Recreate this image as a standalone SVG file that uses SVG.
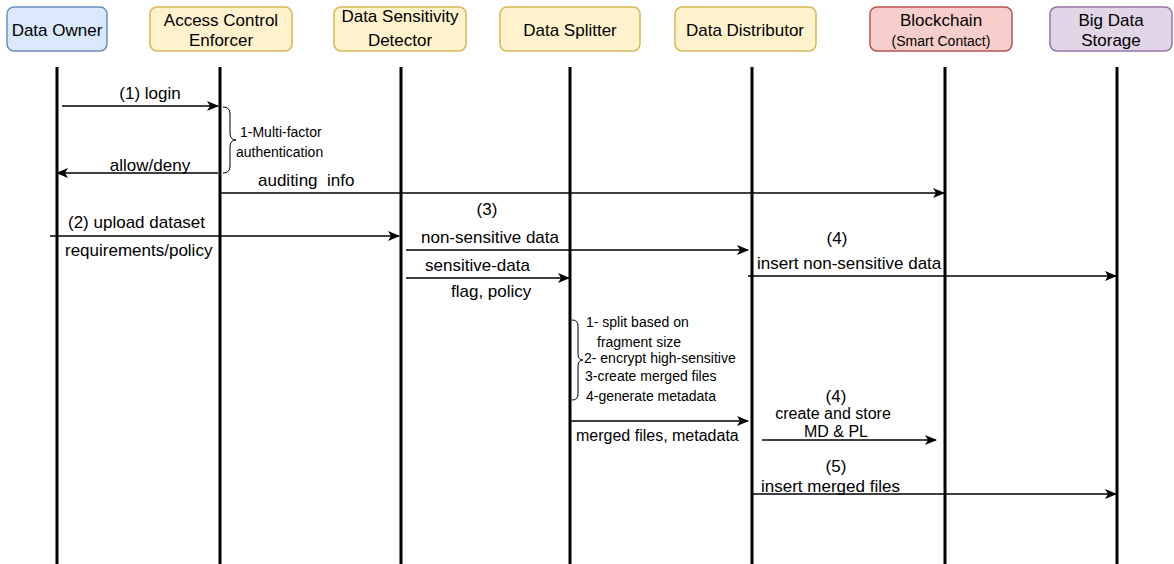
<svg xmlns="http://www.w3.org/2000/svg" width="1174" height="564" viewBox="0 0 1174 564">
<style>
text{font-family:"Liberation Sans",Arial,sans-serif;fill:#000}
.bt{font-size:17px;text-anchor:middle}
.lb{font-size:17px}
.lm{font-size:16px}
.c{text-anchor:middle}
.nt{font-size:14px}
.life{stroke:#000;stroke-width:3}
.msg{stroke:#000;stroke-width:1.5;fill:none}
.br{stroke:#000;stroke-width:1;fill:none}
</style>
<defs>
<marker id="ah" viewBox="0 0 12 10" refX="11" refY="5" markerWidth="12" markerHeight="10" markerUnits="userSpaceOnUse" orient="auto">
<path d="M0,0 L12,5 L0,10 L3,5 Z" fill="#000"/>
</marker>
</defs>
<g id="lifelines">
<line class="life" x1="57" y1="67" x2="57" y2="564"/>
<line class="life" x1="220" y1="67" x2="220" y2="564"/>
<line class="life" x1="401" y1="67" x2="401" y2="564"/>
<line class="life" x1="570" y1="67" x2="570" y2="564"/>
<line class="life" x1="752" y1="67" x2="752" y2="564"/>
<line class="life" x1="945" y1="67" x2="945" y2="564"/>
<line class="life" x1="1117" y1="67" x2="1117" y2="564"/>
</g>
<g id="node-data-owner">
<rect x="7" y="7" width="100" height="44" rx="7" fill="#dae8fc" stroke="#6c8ebf" stroke-width="1.5"/>
<text class="bt" x="57" y="36">Data Owner</text>
</g>
<g id="node-access-control">
<rect x="150" y="7" width="142" height="44" rx="7" fill="#fff2cc" stroke="#d6b656" stroke-width="1.5"/>
<text class="bt" x="221" y="26">Access Control</text>
<text class="bt" x="221" y="46">Enforcer</text>
</g>
<g id="node-sensitivity">
<rect x="334" y="7" width="132" height="44" rx="7" fill="#fff2cc" stroke="#d6b656" stroke-width="1.5"/>
<text class="bt" x="400" y="22">Data Sensitivity</text>
<text class="bt" x="400" y="46">Detector</text>
</g>
<g id="node-splitter">
<rect x="500" y="7" width="140" height="44" rx="7" fill="#fff2cc" stroke="#d6b656" stroke-width="1.5"/>
<text class="bt" x="570" y="36">Data Splitter</text>
</g>
<g id="node-distributor">
<rect x="675" y="7" width="141" height="44" rx="7" fill="#fff2cc" stroke="#d6b656" stroke-width="1.5"/>
<text class="bt" x="745" y="36">Data Distributor</text>
</g>
<g id="node-blockchain">
<rect x="870" y="7" width="142" height="44" rx="7" fill="#f8cecc" stroke="#b85450" stroke-width="1.5"/>
<text class="bt" x="941" y="26">Blockchain</text>
<text x="941" y="46" style="font-size:14px;text-anchor:middle">(Smart Contact)</text>
</g>
<g id="node-storage">
<rect x="1050" y="7" width="122" height="44" rx="7" fill="#e1d5e7" stroke="#9673a6" stroke-width="1.5"/>
<text class="bt" x="1111" y="26">Big Data</text>
<text class="bt" x="1111" y="46">Storage</text>
</g>
<g id="connectors">
<line class="msg" x1="62" y1="106" x2="218" y2="106" marker-end="url(#ah)"/>
<line class="msg" x1="218" y1="173" x2="57" y2="173" marker-end="url(#ah)"/>
<line class="msg" x1="220" y1="193" x2="944" y2="193" marker-end="url(#ah)"/>
<line class="msg" x1="50" y1="236" x2="399" y2="236" marker-end="url(#ah)"/>
<line class="msg" x1="406" y1="250" x2="748" y2="250" marker-end="url(#ah)"/>
<line class="msg" x1="406" y1="278" x2="569" y2="278" marker-end="url(#ah)"/>
<line class="msg" x1="748" y1="276" x2="1116" y2="276" marker-end="url(#ah)"/>
<line class="msg" x1="571" y1="421" x2="748" y2="421" marker-end="url(#ah)"/>
<line class="msg" x1="762" y1="440" x2="936" y2="440" marker-end="url(#ah)"/>
<line class="msg" x1="752" y1="494" x2="1116" y2="494" marker-end="url(#ah)"/>
<path class="br" d="M223,107 Q230,107 230,114 L230,133 Q230,140 236,140 Q230,140 230,147 L230,166 Q230,173 223,173"/>
<path class="br" d="M572,320 Q578,320 578,326 L578,354 Q578,360 583,360 Q578,360 578,366 L578,394 Q578,400 572,400"/>
</g>
<g id="labels">
<text class="lb c" x="150" y="99">(1) login</text>
<text class="lb c" x="150" y="171">allow/deny</text>
<text class="nt" x="240" y="137">1-Multi-factor</text>
<text class="nt" x="236" y="157">authentication</text>
<text class="lb" x="258" y="186">auditing&#160; info</text>
<text class="lb" x="68" y="228">(2) upload dataset</text>
<text class="lb" x="65" y="256">requirements/policy</text>
<text class="lb c" x="487" y="215">(3)</text>
<text class="lb" x="421" y="243">non-sensitive data</text>
<text class="lb" x="425" y="271">sensitive-data</text>
<text class="lb" x="451" y="297">flag, policy</text>
<text class="lb c" x="837" y="244">(4)</text>
<text class="lb" x="757" y="269">insert non-sensitive data</text>
<text class="nt" x="586" y="327">1- split based on</text>
<text class="nt" x="597" y="347">fragment size</text>
<text class="nt" x="584" y="363">2- encrypt high-sensitive</text>
<text class="nt" x="585" y="381">3-create merged files</text>
<text class="nt" x="586" y="401">4-generate metadata</text>
<text class="lm" x="576" y="441">merged files, metadata</text>
<text class="lb c" x="836" y="402">(4)</text>
<text class="lm c" x="833" y="419">create and store</text>
<text class="lm c" x="836" y="437">MD &amp; PL</text>
<text class="lb c" x="836" y="472">(5)</text>
<text class="lb" x="761" y="492">insert merged files</text>
</g>
</svg>
